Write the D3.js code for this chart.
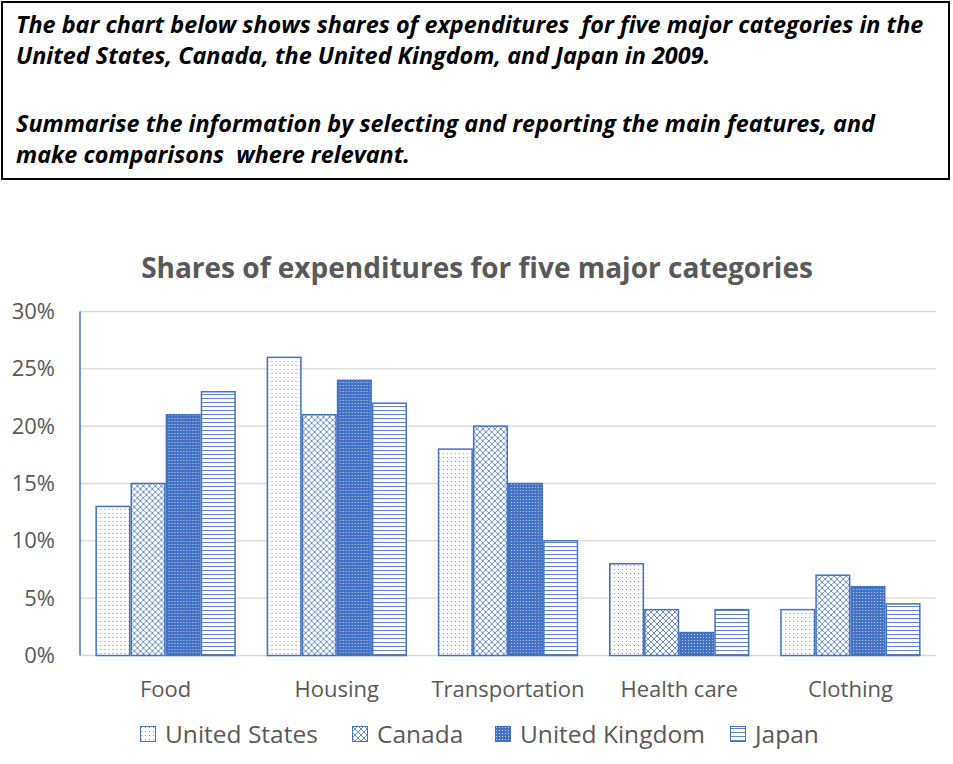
<!DOCTYPE html>
<html>
<head>
<meta charset="utf-8">
<script src="https://cdn.jsdelivr.net/npm/d3@7/dist/d3.min.js"></script>
<style>
  html, body { margin: 0; padding: 0; background: #fff; }
  svg { display: block; }
</style>
</head>
<body>
<script>
const categories = ["Food", "Housing", "Transportation", "Health care", "Clothing"];
const seriesNames = ["United States", "Canada", "United Kingdom", "Japan"];
const unitedStates = [13, 26, 18, 8, 4];
const canada = [15, 21, 20, 4, 7];
const unitedKingdom = [21, 24, 15, 2, 6];
const japan = [23, 22, 10, 4, 4.5];
const yTicks = [0, 5, 10, 15, 20, 25, 30];
const headerLines = [
  "The bar chart below shows shares of expenditures  for five major categories in the",
  "United States, Canada, the United Kingdom, and Japan in 2009.",
  "",
  "Summarise the information by selecting and reporting the main features, and",
  "make comparisons  where relevant."
];
const chartTitle = "Shares of expenditures for five major categories";

const seriesValues = [unitedStates, canada, unitedKingdom, japan];
const W = 953, H = 764;
const BLUE = "#4472C4";
const GRAY = "#595959";

const svg = d3.select("body").append("svg").attr("width", W).attr("height", H);
const defs = svg.append("defs");

// Patterns
const pUS = defs.append("pattern").attr("id", "pat0").attr("patternUnits", "userSpaceOnUse")
  .attr("width", 4).attr("height", 4);
pUS.append("rect").attr("width", 4).attr("height", 4).attr("fill", "#fff");
pUS.append("rect").attr("x", 1).attr("y", 1).attr("width", 1).attr("height", 1).attr("fill", BLUE).attr("opacity", 0.75);

const pCA = defs.append("pattern").attr("id", "pat1").attr("patternUnits", "userSpaceOnUse")
  .attr("width", 6).attr("height", 6);
pCA.append("rect").attr("width", 6).attr("height", 6).attr("fill", "#fff");
pCA.append("path").attr("d", "M0,0 L6,6 M6,0 L0,6 M-1,5 L1,7 M5,-1 L7,1 M-1,1 L1,-1 M5,7 L7,5")
  .attr("stroke", BLUE).attr("stroke-width", 1).attr("stroke-opacity", 0.8);

const pUK = defs.append("pattern").attr("id", "pat2").attr("patternUnits", "userSpaceOnUse")
  .attr("width", 3).attr("height", 3);
pUK.append("rect").attr("width", 3).attr("height", 3).attr("fill", BLUE);
pUK.append("rect").attr("x", 1).attr("y", 1).attr("width", 1).attr("height", 1).attr("fill", "#fff").attr("opacity", 0.7);

const pJP = defs.append("pattern").attr("id", "pat3").attr("patternUnits", "userSpaceOnUse")
  .attr("width", 4).attr("height", 4);
pJP.append("rect").attr("width", 4).attr("height", 4).attr("fill", "#fff");
pJP.append("rect").attr("x", 0).attr("y", 2).attr("width", 4).attr("height", 1).attr("fill", BLUE).attr("opacity", 0.85);

// Header box
svg.append("rect").attr("x", 2).attr("y", 2).attr("width", 947).attr("height", 177)
  .attr("fill", "#fff").attr("stroke", "#000").attr("stroke-width", 2);
const headerY = [33, 64, 96, 132, 163];
svg.append("g").selectAll("text").data(headerLines).join("text")
  .attr("x", 16).attr("y", (d, i) => headerY[i])
  .attr("font-family", "Open Sans").attr("font-weight", "bold").attr("font-style", "italic")
  .attr("font-size", 23.4).attr("fill", "#000")
  .attr("xml:space", "preserve")
  .text(d => d);

// Chart title
svg.append("text").attr("x", 477).attr("y", 278).attr("text-anchor", "middle")
  .attr("font-family", "Open Sans").attr("font-weight", "bold").attr("font-size", 28)
  .attr("fill", GRAY).text(chartTitle);

// Scales
const plotLeft = 80, plotRight = 936, plotTop = 311.5, plotBottom = 655.5;
const x0 = d3.scaleBand().domain(categories).range([plotLeft, plotRight]).paddingInner(0.18).paddingOuter(0.09);
const x1 = d3.scaleBand().domain(seriesNames).range([0, x0.bandwidth()]);
const y = d3.scaleLinear().domain([0, 30]).range([plotBottom, plotTop]);

// Gridlines
svg.append("g").selectAll("line").data(yTicks).join("line")
  .attr("x1", plotLeft).attr("x2", plotRight)
  .attr("y1", d => y(d)).attr("y2", d => y(d))
  .attr("stroke", "#d9d9d9").attr("stroke-width", 1.3);

// Y axis labels
const yAxis = d3.axisLeft(y).tickValues(yTicks).tickFormat(d => d + "%").tickSize(0).tickPadding(0);
const yg = svg.append("g").attr("transform", `translate(${plotLeft - 25},0)`).call(yAxis);
yg.select(".domain").remove();
yg.selectAll("text").attr("font-family", "Open Sans").attr("font-size", 22).attr("fill", GRAY);

// Left blue axis line
svg.append("line").attr("x1", plotLeft).attr("x2", plotLeft).attr("y1", plotTop).attr("y2", plotBottom)
  .attr("stroke", BLUE).attr("stroke-width", 1.5);

// Bars
const groups = svg.append("g").selectAll("g").data(categories).join("g")
  .attr("transform", d => `translate(${x0(d)},0)`);
groups.selectAll("rect").data((c, ci) => seriesNames.map((s, si) => ({ s, si, v: seriesValues[si][ci] })))
  .join("rect")
  .attr("x", d => x1(d.s) + 0.75)
  .attr("width", x1.bandwidth() - 1.5)
  .attr("y", d => y(d.v))
  .attr("height", d => y(0) - y(d.v))
  .attr("fill", d => `url(#pat${d.si})`)
  .attr("stroke", BLUE).attr("stroke-width", 1.5);

// X axis
const xAxis = d3.axisBottom(x0).tickSize(0).tickPadding(0);
const xg = svg.append("g").attr("transform", `translate(0,${plotBottom})`).call(xAxis);
xg.select(".domain").remove();
xg.selectAll("text").attr("font-family", "Open Sans").attr("font-size", 22).attr("fill", GRAY)
  .attr("dy", "1.9em");

// Legend
const legendX = [140, 352, 495, 730];
const legend = svg.append("g").selectAll("g").data(seriesNames).join("g")
  .attr("transform", (d, i) => `translate(${legendX[i]},726)`);
legend.append("rect").attr("x", 0.5).attr("y", 0.5).attr("width", 15).attr("height", 15)
  .attr("fill", (d, i) => `url(#pat${i})`).attr("stroke", BLUE).attr("stroke-width", 1);
legend.append("text").attr("x", 25).attr("y", 16.5)
  .attr("font-family", "Open Sans").attr("font-size", 24.5).attr("fill", GRAY).text(d => d);
</script>
</body>
</html>
